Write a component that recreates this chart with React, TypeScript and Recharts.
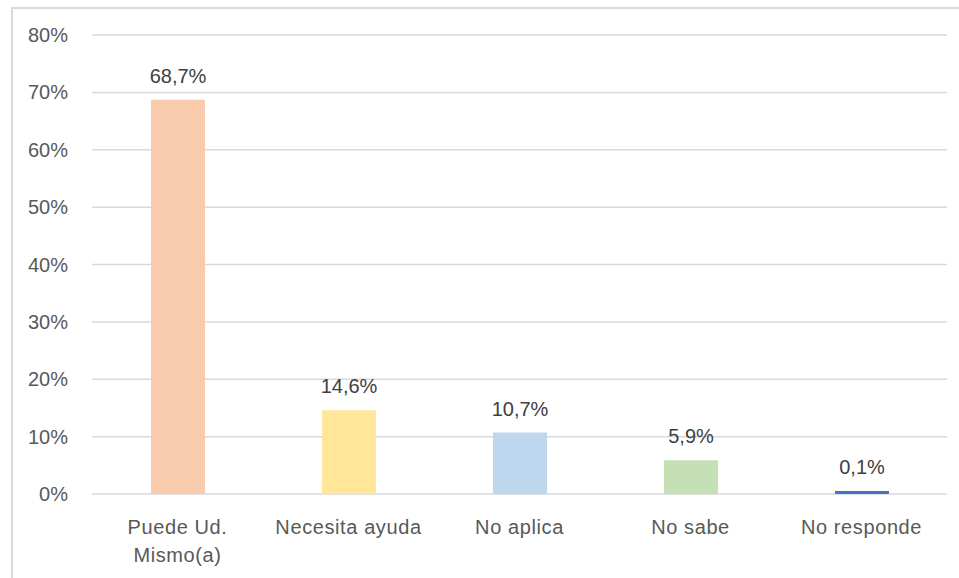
import React from "react";
import { BarChart, Bar, XAxis, YAxis, CartesianGrid, Cell, LabelList } from "recharts";

const categories = ["Puede Ud.\nMismo(a)", "Necesita ayuda", "No aplica", "No sabe", "No responde"];
const values = [68.7, 14.6, 10.7, 5.9, 0.1];
const colors = ["#F8CBAD", "#FFE699", "#BDD7EE", "#C5E0B4", "#4472C4"];
const yTicks = [0, 10, 20, 30, 40, 50, 60, 70, 80];

const data = categories.map((name, i) => ({ name, value: values[i] }));

const FONT = "'Liberation Sans', Arial, sans-serif";

function CategoryTick(props: any) {
	const { x, y, payload } = props;
	const lines = String(payload.value).split("\n");
	return (
		<text x={x} y={y + 40} textAnchor="middle" fill="#595959" fontSize={20} fontFamily={FONT} letterSpacing={0.6}>
			{lines.map((line, i) => (
				<tspan key={i} x={x} dy={i === 0 ? 0 : 28}>
					{line}
				</tspan>
			))}
		</text>
	);
}

export default function App() {
	return (
		<div style={{ position: "absolute", left: 0, top: 0, width: 959, height: 578, overflow: "hidden", background: "#fff" }}>
			<div
				style={{
					position: "absolute",
					left: 11,
					top: 7,
					width: 1000,
					height: 1000,
					border: "2px solid #d9d9d9",
				}}
			/>
			<BarChart
				width={959}
				height={578}
				data={data}
				margin={{ top: 35, right: 12, bottom: 54, left: 0 }}
				style={{ position: "absolute", left: 0, top: 0 }}
			>
				<CartesianGrid vertical={false} stroke="#d9d9d9" strokeWidth={1.5} />
				<XAxis
					dataKey="name"
					height={30}
					axisLine={false}
					tickLine={false}
					tickSize={0}
					tickMargin={0}
					interval={0}
					tick={<CategoryTick />}
				/>
				<YAxis
					width={92}
					domain={[0, 80]}
					ticks={yTicks}
					axisLine={false}
					tickLine={false}
					tickSize={0}
					tickMargin={24}
					tickFormatter={(v: number) => `${v}%`}
					tick={{ fill: "#595959", fontSize: 20, fontFamily: FONT }}
				/>
				<Bar dataKey="value" barSize={54} minPointSize={3} isAnimationActive={false}>
					{data.map((d, i) => (
						<Cell key={d.name} fill={colors[i]} />
					))}
					<LabelList
						dataKey="value"
						position="top"
						offset={17}
						fill="#404040"
						fontSize={20}
						fontFamily={FONT}
						formatter={(v: any) => `${Number(v).toFixed(1).replace(".", ",")}%`}
					/>
				</Bar>
			</BarChart>
		</div>
	);
}
